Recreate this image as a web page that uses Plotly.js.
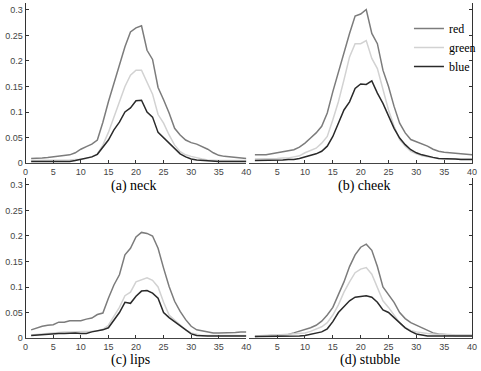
<!DOCTYPE html>
<html><head><meta charset="utf-8">
<script src="https://cdn.plot.ly/plotly-3.0.1.min.js"></script>
<style>html,body{margin:0;padding:0;background:#fff}#chart{width:481px;height:371px}</style>
</head><body><div id="chart"></div>
<script>
var bins = [];
for (var i = 1; i <= 40; i++) bins.push(i);

var neckRed   = [0.009,0.009,0.010,0.011,0.012,0.013,0.015,0.016,0.020,0.027,0.032,0.037,0.045,0.080,0.120,0.156,0.190,0.228,0.257,0.265,0.269,0.221,0.203,0.148,0.124,0.098,0.068,0.055,0.045,0.040,0.037,0.032,0.027,0.020,0.015,0.013,0.012,0.011,0.010,0.009];
var neckGreen = [0.005,0.005,0.005,0.005,0.005,0.006,0.006,0.006,0.007,0.007,0.009,0.012,0.018,0.035,0.060,0.090,0.120,0.150,0.172,0.182,0.182,0.160,0.135,0.095,0.078,0.055,0.035,0.022,0.016,0.013,0.010,0.008,0.006,0.005,0.005,0.005,0.005,0.005,0.005,0.005];
var neckBlue  = [0.003,0.003,0.003,0.003,0.003,0.003,0.003,0.003,0.005,0.007,0.009,0.012,0.017,0.030,0.045,0.065,0.080,0.100,0.108,0.122,0.123,0.100,0.090,0.060,0.050,0.040,0.028,0.018,0.012,0.008,0.006,0.005,0.004,0.004,0.003,0.003,0.003,0.003,0.003,0.003];

var cheekRed   = [0.016,0.016,0.016,0.018,0.020,0.021,0.023,0.026,0.031,0.039,0.049,0.059,0.072,0.098,0.140,0.179,0.215,0.254,0.288,0.292,0.301,0.254,0.234,0.182,0.150,0.111,0.078,0.059,0.046,0.042,0.037,0.033,0.027,0.023,0.021,0.020,0.018,0.017,0.016,0.016];
var cheekGreen = [0.008,0.008,0.008,0.009,0.009,0.010,0.010,0.012,0.014,0.020,0.025,0.029,0.039,0.052,0.085,0.120,0.163,0.208,0.234,0.234,0.240,0.205,0.185,0.143,0.104,0.072,0.046,0.033,0.023,0.018,0.014,0.012,0.010,0.009,0.008,0.008,0.008,0.008,0.008,0.008];
var cheekBlue  = [0.005,0.005,0.005,0.006,0.006,0.006,0.007,0.007,0.009,0.012,0.015,0.018,0.023,0.033,0.052,0.078,0.104,0.120,0.146,0.155,0.154,0.161,0.137,0.117,0.091,0.068,0.049,0.036,0.026,0.020,0.016,0.013,0.011,0.009,0.009,0.008,0.008,0.007,0.007,0.007];

var lipsRed   = [0.016,0.020,0.023,0.025,0.026,0.031,0.031,0.034,0.034,0.034,0.037,0.039,0.046,0.049,0.078,0.104,0.124,0.163,0.176,0.198,0.207,0.205,0.200,0.176,0.137,0.101,0.072,0.052,0.036,0.023,0.016,0.014,0.013,0.010,0.010,0.010,0.011,0.011,0.012,0.012];
var lipsGreen = [0.006,0.007,0.009,0.010,0.011,0.012,0.012,0.012,0.012,0.012,0.012,0.013,0.014,0.017,0.025,0.042,0.060,0.083,0.090,0.110,0.114,0.118,0.113,0.100,0.070,0.045,0.035,0.025,0.016,0.010,0.007,0.005,0.005,0.005,0.005,0.005,0.005,0.005,0.005,0.005];
var lipsBlue  = [0.005,0.006,0.007,0.008,0.009,0.009,0.009,0.010,0.010,0.009,0.009,0.012,0.014,0.016,0.020,0.035,0.050,0.070,0.068,0.082,0.092,0.093,0.088,0.078,0.050,0.040,0.032,0.025,0.016,0.008,0.005,0.004,0.004,0.004,0.004,0.004,0.004,0.004,0.004,0.004];

var stubbleRed   = [0.003,0.004,0.004,0.005,0.005,0.006,0.007,0.010,0.013,0.017,0.020,0.025,0.033,0.045,0.060,0.085,0.110,0.140,0.163,0.178,0.184,0.172,0.140,0.100,0.085,0.070,0.050,0.038,0.030,0.025,0.020,0.014,0.010,0.008,0.007,0.005,0.005,0.005,0.005,0.005];
var stubbleGreen = [0.004,0.005,0.005,0.006,0.006,0.007,0.007,0.008,0.009,0.010,0.013,0.017,0.022,0.030,0.045,0.065,0.090,0.110,0.128,0.135,0.138,0.125,0.100,0.073,0.060,0.045,0.030,0.020,0.015,0.012,0.010,0.009,0.008,0.008,0.007,0.007,0.006,0.006,0.006,0.006];
var stubbleBlue  = [0.003,0.003,0.003,0.003,0.003,0.003,0.003,0.003,0.004,0.005,0.007,0.009,0.012,0.018,0.032,0.050,0.062,0.073,0.080,0.082,0.083,0.080,0.070,0.055,0.050,0.040,0.030,0.020,0.013,0.008,0.006,0.004,0.004,0.004,0.004,0.004,0.004,0.004,0.004,0.004];

var seriesNames = ['red', 'green', 'blue'];
var panelTitles = ['(a) neck', '(b) cheek', '(c) lips', '(d) stubble'];
var xTicksLeft = [0,5,10,15,20,25,30,35,40];
var xTicksRight = [5,10,15,20,25,30,35,40];
var yTicks = [0,0.05,0.1,0.15,0.2,0.25,0.3];

(function () {
var colors = ['#7c7c7c', '#d2d2d2', '#2a2a2a'];
var panels = [
  [neckRed, neckGreen, neckBlue],
  [cheekRed, cheekGreen, cheekBlue],
  [lipsRed, lipsGreen, lipsBlue],
  [stubbleRed, stubbleGreen, stubbleBlue]
];

var traces = [];
panels.forEach(function (p, pi) {
  var suf = pi === 0 ? '' : String(pi + 1);
  p.forEach(function (vals, si) {
    traces.push({
      x: bins, y: vals, type: 'scatter', mode: 'lines',
      name: seriesNames[si],
      legendgroup: seriesNames[si],
      showlegend: pi === 1,
      xaxis: 'x' + suf, yaxis: 'y' + suf,
      line: {color: colors[si], width: 1.5}
    });
  });
});

var W = 481, H = 371;
function px(v) { return v / W; }
function py(v) { return (H - v) / H; }
var tickFont = {family: 'Liberation Sans, Arial, sans-serif', size: 9, color: '#444'};
function xax(dom, anchor, ticks) {
  return {domain: dom, anchor: anchor, range: [0, 40], showgrid: false, zeroline: false,
    showline: true, linecolor: '#444', linewidth: 1, ticks: 'inside', ticklen: 3,
    tickcolor: '#333', tickvals: ticks, ticktext: ticks.map(String), tickfont: tickFont, fixedrange: true};
}
function yax(dom, anchor, side, labels) {
  return {domain: dom, anchor: anchor, side: side, range: [0, 0.3137], showgrid: false, zeroline: false,
    showline: true, linecolor: '#333', linewidth: 1, ticks: 'inside', ticklen: 3, tickcolor: '#333',
    tickvals: yTicks, ticktext: yTicks.map(String), showticklabels: labels, tickfont: tickFont, fixedrange: true};
}
var domL = [px(26), px(250)], domR = [px(253), px(479)];
var domT = [py(163), py(3)], domB = [py(338), py(178)];

var titleFont = {family: 'Liberation Serif, Times New Roman, serif', size: 14, color: '#000'};
function ttl(t, x, y) {
  return {text: t, x: px(x), y: py(y), xref: 'paper', yref: 'paper', xanchor: 'center', yanchor: 'middle',
    showarrow: false, font: titleFont};
}
var layout = {
  width: W, height: H, margin: {l: 0, r: 0, t: 0, b: 0},
  paper_bgcolor: '#fff', plot_bgcolor: 'rgba(0,0,0,0)',
  xaxis: xax(domL, 'y', xTicksLeft), yaxis: yax(domT, 'x', 'left', true),
  xaxis2: xax(domR, 'y2', xTicksRight), yaxis2: yax(domT, 'x2', 'right', false),
  xaxis3: xax(domL, 'y3', xTicksLeft), yaxis3: yax(domB, 'x3', 'left', true),
  xaxis4: xax(domR, 'y4', xTicksRight), yaxis4: yax(domB, 'x4', 'right', false),
  showlegend: true,
  legend: {x: px(415), y: py(14), xanchor: 'left', yanchor: 'top', bgcolor: 'rgba(0,0,0,0)',
    borderwidth: 0, font: {family: 'Liberation Serif', size: 12, color: '#000'},
    itemwidth: 30, tracegroupgap: 0},
  annotations: [
    ttl(panelTitles[0], 135, 186),
    ttl(panelTitles[1], 369, 186),
    ttl(panelTitles[2], 132, 360),
    ttl(panelTitles[3], 375, 360)
  ]
};
Plotly.newPlot('chart', traces, layout, {displayModeBar: false, staticPlot: true});
})();
</script></body></html>
